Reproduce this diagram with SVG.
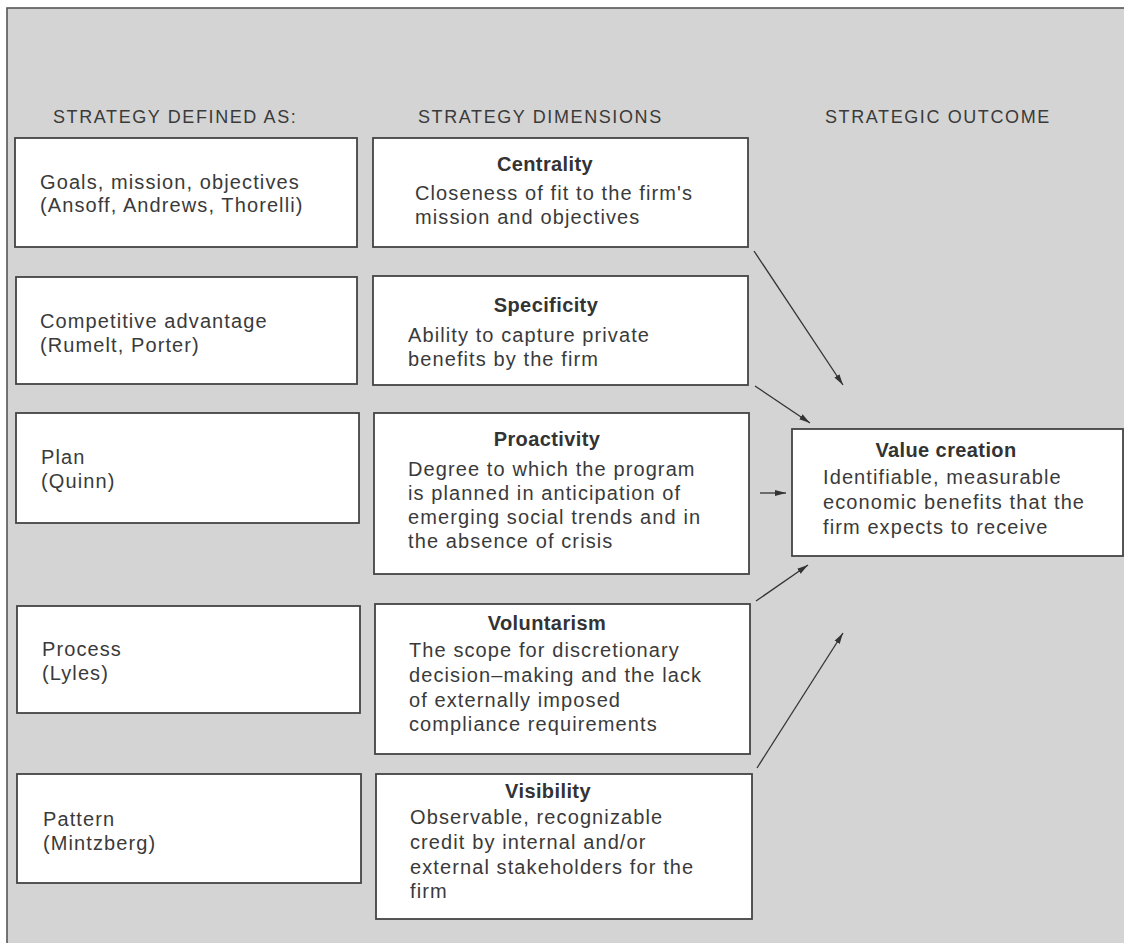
<svg xmlns="http://www.w3.org/2000/svg" width="1124" height="943" viewBox="0 0 1124 943">
<defs>
<style>
.box{fill:#fff;stroke:#444;stroke-width:1.8}
.t{font-family:"Liberation Sans",Arial,sans-serif;font-size:20px;letter-spacing:1.1px;fill:#3a3a3a}
.b{font-family:"Liberation Sans",Arial,sans-serif;font-size:20px;font-weight:bold;letter-spacing:0.4px;fill:#333;text-anchor:middle}
.h{font-family:"Liberation Sans",Arial,sans-serif;font-size:18px;letter-spacing:1.6px;fill:#3a3a3a}
.c{stroke:#333;stroke-width:1.3;fill:none;marker-end:url(#ah)}
</style>
<marker id="ah" markerWidth="12" markerHeight="8" refX="11" refY="4" orient="auto" markerUnits="userSpaceOnUse">
<path d="M0,1 L11,4 L0,7 Z" fill="#333"/>
</marker>
</defs>
<rect x="0" y="0" width="1124" height="943" fill="#fff"/>
<rect x="7" y="8" width="1130" height="950" fill="#d4d4d4" stroke="#555" stroke-width="1.6"/>
<g id="headers">
<text class="h" x="53" y="123">STRATEGY DEFINED AS:</text>
<text class="h" x="418" y="123">STRATEGY DIMENSIONS</text>
<text class="h" x="825" y="123">STRATEGIC OUTCOME</text>
</g>
<g id="def-goals">
<rect class="box" x="15" y="138" width="342" height="109"/>
<text class="t" x="40" y="189">Goals, mission, objectives</text>
<text class="t" x="40" y="212">(Ansoff, Andrews, Thorelli)</text>
</g>
<g id="def-competitive">
<rect class="box" x="16" y="277" width="341" height="107"/>
<text class="t" x="40" y="328">Competitive advantage</text>
<text class="t" x="40" y="352">(Rumelt, Porter)</text>
</g>
<g id="def-plan">
<rect class="box" x="16" y="413" width="343" height="110"/>
<text class="t" x="41" y="464">Plan</text>
<text class="t" x="41" y="488">(Quinn)</text>
</g>
<g id="def-process">
<rect class="box" x="17" y="606" width="343" height="107"/>
<text class="t" x="42" y="656">Process</text>
<text class="t" x="42" y="680">(Lyles)</text>
</g>
<g id="def-pattern">
<rect class="box" x="17" y="774" width="344" height="109"/>
<text class="t" x="43" y="826">Pattern</text>
<text class="t" x="43" y="850">(Mintzberg)</text>
</g>
<g id="dim-centrality">
<rect class="box" x="373" y="138" width="375" height="109"/>
<text class="b" x="545" y="171">Centrality</text>
<text class="t" x="415" y="200">Closeness of fit to the firm's</text>
<text class="t" x="415" y="224">mission and objectives</text>
</g>
<g id="dim-specificity">
<rect class="box" x="373" y="276" width="375" height="109"/>
<text class="b" x="546" y="312">Specificity</text>
<text class="t" x="408" y="342">Ability to capture private</text>
<text class="t" x="408" y="366">benefits by the firm</text>
</g>
<g id="dim-proactivity">
<rect class="box" x="374" y="413" width="375" height="161"/>
<text class="b" x="547" y="446">Proactivity</text>
<text class="t" x="408" y="476">Degree to which the program</text>
<text class="t" x="408" y="500">is planned in anticipation of</text>
<text class="t" x="408" y="524">emerging social trends and in</text>
<text class="t" x="408" y="548">the absence of crisis</text>
</g>
<g id="dim-voluntarism">
<rect class="box" x="375" y="604" width="375" height="150"/>
<text class="b" x="547" y="630">Voluntarism</text>
<text class="t" x="409" y="657">The scope for discretionary</text>
<text class="t" x="409" y="682">decision–making and the lack</text>
<text class="t" x="409" y="707">of externally imposed</text>
<text class="t" x="409" y="731">compliance requirements</text>
</g>
<g id="dim-visibility">
<rect class="box" x="376" y="774" width="376" height="145"/>
<text class="b" x="548" y="798">Visibility</text>
<text class="t" x="410" y="824">Observable, recognizable</text>
<text class="t" x="410" y="849">credit by internal and/or</text>
<text class="t" x="410" y="874">external stakeholders for the</text>
<text class="t" x="410" y="898">firm</text>
</g>
<g id="value-creation">
<rect class="box" x="792" y="429" width="331" height="127"/>
<text class="b" x="946" y="457">Value creation</text>
<text class="t" x="823" y="484">Identifiable, measurable</text>
<text class="t" x="823" y="509">economic benefits that the</text>
<text class="t" x="823" y="534">firm expects to receive</text>
</g>
<g id="connectors">
<line class="c" x1="754" y1="251" x2="843" y2="385"/>
<line class="c" x1="755" y1="386" x2="810" y2="423"/>
<line class="c" x1="760" y1="493" x2="786" y2="493"/>
<line class="c" x1="756" y1="601" x2="808" y2="565"/>
<line class="c" x1="757" y1="768" x2="843" y2="633"/>
</g>
</svg>
